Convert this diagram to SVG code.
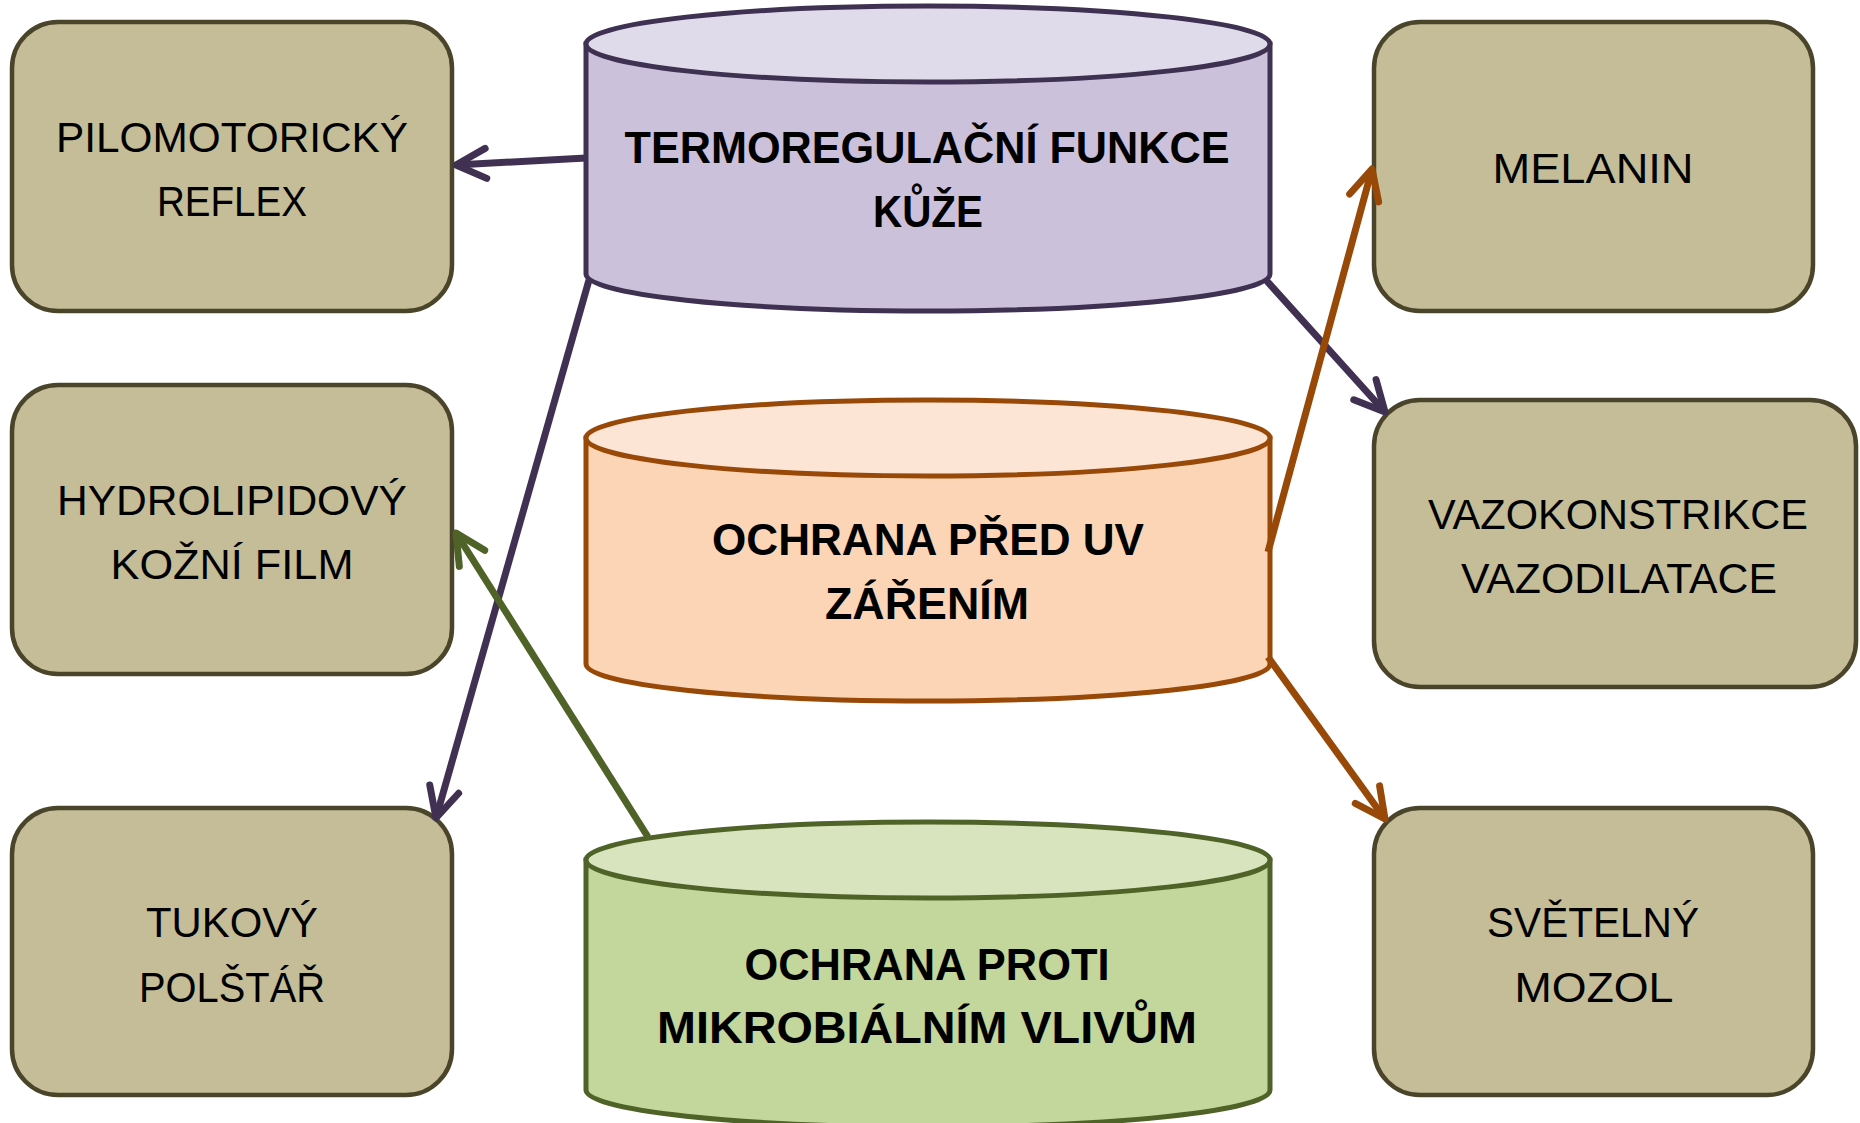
<svg xmlns="http://www.w3.org/2000/svg" width="1860" height="1123" viewBox="0 0 1860 1123">
<defs>
<style>
.box{fill:#c4bd97;stroke:#4a452a;stroke-width:4.5}
.bt{font-family:"Liberation Sans",Arial,sans-serif;font-size:43px;fill:#000;text-anchor:middle}
.ct{font-family:"Liberation Sans",Arial,sans-serif;font-size:44px;font-weight:bold;fill:#000;text-anchor:middle}
.p .body{fill:#ccc1da;stroke:#3f3151;stroke-width:5}
.p .top{fill:#e0dbea;stroke:#3f3151;stroke-width:5}
.o .body{fill:#fbd5b5;stroke:#984807;stroke-width:5}
.o .top{fill:#fde5d5;stroke:#984807;stroke-width:5}
.g .body{fill:#c3d69b;stroke:#4f6228;stroke-width:5}
.g .top{fill:#d8e4bd;stroke:#4f6228;stroke-width:5}
.ln{fill:none;stroke-width:7}
</style>
<marker id="ap" markerUnits="userSpaceOnUse" viewBox="-36 -20 40 40" markerWidth="40" markerHeight="40" refX="0" refY="0" orient="auto">
<path d="M-30,-15 L0,0 L-30,15" fill="none" stroke="#403152" stroke-width="7" stroke-linecap="round" stroke-linejoin="round"/>
</marker>
<marker id="ao" markerUnits="userSpaceOnUse" viewBox="-36 -20 40 40" markerWidth="40" markerHeight="40" refX="0" refY="0" orient="auto">
<path d="M-30,-15 L0,0 L-30,15" fill="none" stroke="#984807" stroke-width="7" stroke-linecap="round" stroke-linejoin="round"/>
</marker>
<marker id="ag" markerUnits="userSpaceOnUse" viewBox="-36 -20 40 40" markerWidth="40" markerHeight="40" refX="0" refY="0" orient="auto">
<path d="M-30,-15 L0,0 L-30,15" fill="none" stroke="#4f6228" stroke-width="7" stroke-linecap="round" stroke-linejoin="round"/>
</marker>
</defs>
<rect width="1860" height="1123" fill="#fff"/>

<g id="pilomotoricky">
<rect class="box" x="12" y="22" width="440" height="289" rx="46"/>
<text class="bt" x="232" y="152" textLength="352" lengthAdjust="spacingAndGlyphs">PILOMOTORICKÝ</text>
<text class="bt" x="232" y="216" textLength="150" lengthAdjust="spacingAndGlyphs">REFLEX</text>
</g>
<g id="hydrolipidovy">
<rect class="box" x="12" y="385" width="440" height="289" rx="46"/>
<text class="bt" x="232" y="515" textLength="350" lengthAdjust="spacingAndGlyphs">HYDROLIPIDOVÝ</text>
<text class="bt" x="232" y="579" textLength="243" lengthAdjust="spacingAndGlyphs">KOŽNÍ FILM</text>
</g>
<g id="tukovy">
<rect class="box" x="12" y="808" width="440" height="287" rx="46"/>
<text class="bt" x="232" y="937" textLength="172" lengthAdjust="spacingAndGlyphs">TUKOVÝ</text>
<text class="bt" x="232" y="1002" textLength="186" lengthAdjust="spacingAndGlyphs">POLŠTÁŘ</text>
</g>
<g id="melanin">
<rect class="box" x="1374" y="22" width="439" height="289" rx="46"/>
<text class="bt" x="1593" y="183" textLength="201" lengthAdjust="spacingAndGlyphs">MELANIN</text>
</g>
<g id="vazo">
<rect class="box" x="1374" y="400" width="482" height="287" rx="46"/>
<text class="bt" x="1618" y="529" textLength="380" lengthAdjust="spacingAndGlyphs">VAZOKONSTRIKCE</text>
<text class="bt" x="1619" y="593" textLength="316" lengthAdjust="spacingAndGlyphs">VAZODILATACE</text>
</g>
<g id="svetelny">
<rect class="box" x="1374" y="808" width="439" height="287" rx="46"/>
<text class="bt" x="1593" y="937" textLength="212" lengthAdjust="spacingAndGlyphs">SVĚTELNÝ</text>
<text class="bt" x="1594" y="1002" textLength="159" lengthAdjust="spacingAndGlyphs">MOZOL</text>
</g>

<g id="termoregulacni" class="p">
<path class="body" d="M586,44 L586,274 A342,37 0 0 0 1270,274 L1270,44 Z"/>
<ellipse class="top" cx="928" cy="44" rx="342" ry="38"/>
<text class="ct" x="927" y="163" textLength="605" lengthAdjust="spacingAndGlyphs">TERMOREGULAČNÍ FUNKCE</text>
<text class="ct" x="928" y="227" textLength="110" lengthAdjust="spacingAndGlyphs">KŮŽE</text>
</g>
<g id="ochrana-uv" class="o">
<path class="body" d="M586,438 L586,664 A342,37 0 0 0 1270,664 L1270,438 Z"/>
<ellipse class="top" cx="928" cy="438" rx="342" ry="38"/>
<text class="ct" x="928" y="555" textLength="432" lengthAdjust="spacingAndGlyphs">OCHRANA PŘED UV</text>
<text class="ct" x="927" y="619" textLength="204" lengthAdjust="spacingAndGlyphs">ZÁŘENÍM</text>
</g>
<g id="ochrana-mikrob" class="g">
<path class="body" d="M586,860 L586,1090 A342,37 0 0 0 1270,1090 L1270,860 Z"/>
<ellipse class="top" cx="928" cy="860" rx="342" ry="38"/>
<text class="ct" x="927" y="980" textLength="365" lengthAdjust="spacingAndGlyphs">OCHRANA PROTI</text>
<text class="ct" x="927" y="1043" textLength="540" lengthAdjust="spacingAndGlyphs">MIKROBIÁLNÍM VLIVŮM</text>
</g>

<g id="connectors" stroke-linecap="butt">
<line class="ln" x1="586" y1="158" x2="456" y2="165" stroke="#403152" marker-end="url(#ap)"/>
<line class="ln" x1="589" y1="280" x2="436" y2="818" stroke="#403152" marker-end="url(#ap)"/>
<line class="ln" x1="648" y1="837" x2="456" y2="533" stroke="#4f6228" marker-end="url(#ag)"/>
<line class="ln" x1="1266" y1="280" x2="1385" y2="412" stroke="#403152" marker-end="url(#ap)"/>
<line class="ln" x1="1268" y1="552" x2="1372" y2="169" stroke="#984807" marker-end="url(#ao)"/>
<line class="ln" x1="1268" y1="657" x2="1385" y2="819" stroke="#984807" marker-end="url(#ao)"/>
</g>
</svg>
